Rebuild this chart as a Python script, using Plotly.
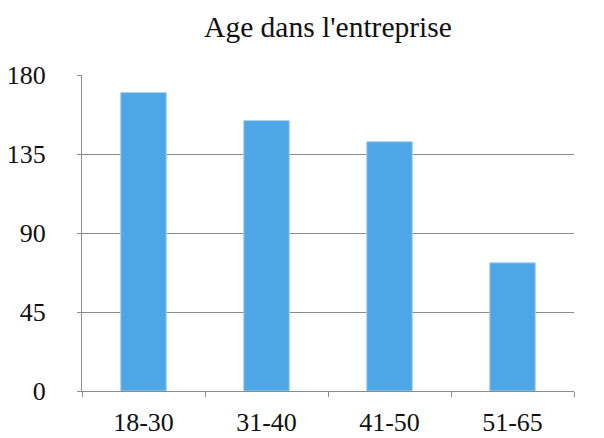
import plotly.graph_objects as go

categories = ["18-30", "31-40", "41-50", "51-65"]
values = [170, 154, 142, 73]
y_ticks = [0, 45, 90, 135, 180]
title_text = "Age dans l'entreprise"

FONT = "Liberation Serif, Times New Roman, serif"

# page body has a default 8px margin; compensate so the figure lands where the reference is
W, H = 596, 430
ML, MR, MT, MB = 74, 30, 67, 47
PW, PH = W - ML - MR, H - MT - MB

fig = go.Figure(
    go.Bar(
        x=categories,
        y=values,
        marker=dict(color="#4DA7E6", line=dict(color="#A9CDEA", width=1)),
        width=0.37,
    )
)

fig.update_layout(
    width=W,
    height=H,
    margin=dict(l=ML, r=MR, t=MT, b=MB),
    paper_bgcolor="white",
    plot_bgcolor="white",
    showlegend=False,
    font=dict(family=FONT, size=26, color="#111111"),
    title=dict(
        text=title_text,
        x=0.5,
        xref="paper",
        xanchor="center",
        y=1 - 19 / H,
        yref="container",
        yanchor="middle",
        font=dict(family=FONT, size=29.5, color="#111111"),
    ),
)

# thin grey frame line along the top of the picture
fig.add_shape(
    type="line", xref="paper", yref="y", layer="above",
    ysizemode="pixel", yanchor=180,
    x0=-ML / PW, x1=(W - ML) / PW,
    y0=MT - 2, y1=MT - 2,
    line=dict(color="#9A9A9A", width=2),
)

fig.update_yaxes(
    range=[0, 180],
    tickvals=y_ticks,
    showgrid=True,
    gridcolor="#8C8C8C",
    gridwidth=1,
    showline=True,
    linecolor="#8C8C8C",
    linewidth=1,
    ticks="outside",
    ticklen=4,
    tickcolor="#8C8C8C",
    ticklabelstandoff=26,
    zeroline=False,
    automargin=False,
    tickfont=dict(family=FONT, size=26, color="#111111"),
)

fig.update_xaxes(
    showline=True,
    linecolor="#8C8C8C",
    linewidth=1,
    ticks="outside",
    ticklen=5,
    tickcolor="#8C8C8C",
    tickson="boundaries",
    ticklabelstandoff=8,
    showgrid=False,
    automargin=False,
    tickfont=dict(family=FONT, size=26, color="#111111"),
)

fig.write_html("out.html")
